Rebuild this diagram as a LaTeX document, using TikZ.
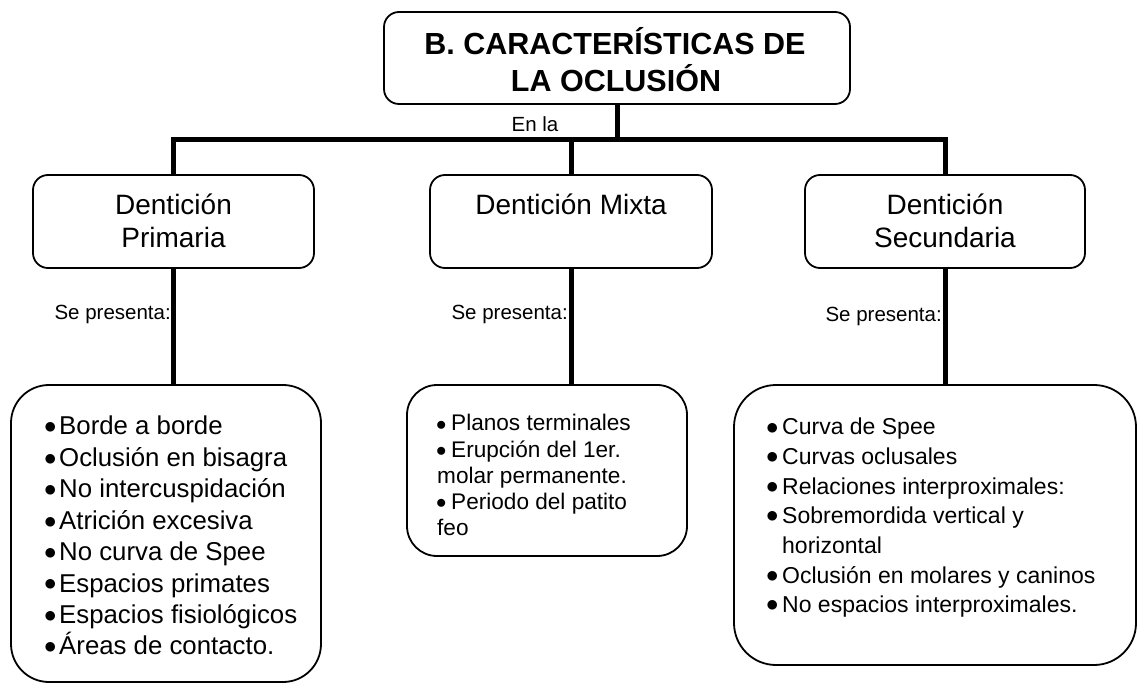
\documentclass[tikz,border=0pt]{standalone}
\usepackage{fontspec}
\setmainfont{Liberation Sans}
\usepackage{graphicx}
\newcommand\bul[1]{\makebox[#1][l]{\raisebox{0.04em}{$\bullet$}}}
\begin{document}
\begin{tikzpicture}[x=1pt,y=-1pt]
\tikzset{
  box/.style={draw, line width=1.8pt, rounded corners=15pt, inner sep=0pt},
  conn/.style={line width=5pt},
  lbl/.style={inner sep=0pt, anchor=base},
  titlefont/.style={font=\fontsize{30.5}{36}\selectfont\bfseries},
  denfont/.style={font=\fontsize{28}{33}\selectfont},
  sefont/.style={font=\fontsize{20.5}{24}\selectfont},
  lfont/.style={font=\fontsize{25.8}{31}\selectfont},
  mfont/.style={font=\fontsize{22.6}{26}\selectfont},
  rfont/.style={font=\fontsize{23}{28}\selectfont},
}
\useasboundingbox (0,0) rectangle (1138,684);

% title
\node[box, minimum width=466pt, minimum height=92pt] (title) at (617,58) {};
\node[lbl, titlefont] (t1) at (615,55) {B. CARACTERÍSTICAS DE};
\node[lbl, titlefont] (t2) at (616,92) {LA OCLUSIÓN};

% level 2 boxes
\node[box, minimum width=281pt, minimum height=93pt] (prim) at (173.5,221.5) {};
\node[box, minimum width=282pt, minimum height=93pt] (mix) at (571,221.5) {};
\node[box, minimum width=280pt, minimum height=93pt] (sec) at (945,221.5) {};
\node[lbl, denfont] (p1) at (173.5,215) {Dentición};
\node[lbl, denfont] (p2) at (173.5,248) {Primaria};
\node[lbl, denfont] (m1) at (571,215) {Dentición Mixta};
\node[lbl, denfont] (s1) at (945,215) {Dentición};
\node[lbl, denfont] (s2) at (945,248) {Secundaria};

% bottom boxes
\node[box, rounded corners=38pt, minimum width=310pt, minimum height=297pt] (lbox) at (166,533.5) {};
\node[box, rounded corners=30pt, minimum width=280pt, minimum height=171pt] (mbox) at (547,470.5) {};
\node[box, rounded corners=42pt, minimum width=402pt, minimum height=280pt] (rbox) at (935,525) {};

% connectors
\coordinate (j) at (617,140);
\draw[conn] (title.south) -- (j);
\draw[conn] (prim.north) |- (j) -| (sec.north);
\draw[conn] (mix.north) -- (mix.north |- j);
\draw[conn] (prim.south) -- (prim.south |- lbox.north);
\draw[conn] (mix.south) -- (mix.south |- mbox.north);
\draw[conn] (sec.south) -- (sec.south |- rbox.north);

% labels
\node[lbl, sefont] (enla) at (535,132) {En la};
\node[lbl, sefont, anchor=base east] (se1) at (171,320) {Se presenta:};
\node[lbl, sefont, anchor=base east] (se2) at (568,320) {Se presenta:};
\node[lbl, sefont, anchor=base east] (se3) at (942,322) {Se presenta:};

% left list
\foreach \t [count=\i from 0] in {Borde a borde, Oclusión en bisagra, No intercuspidación, Atrición excesiva, No curva de Spee, Espacios primates, Espacios fisiológicos, Áreas de contacto.}
  \node[lbl, lfont, anchor=base west] (l\i) at (44,{435+31.4*\i}) {\bul{15pt}\t};

% middle list
\node[lbl, mfont, anchor=base west] (mi1) at (436,431) {\bul{15pt}Planos terminales};
\node[lbl, mfont, anchor=base west] (mi2) at (436,457) {\bul{15pt}Erupción del 1er.};
\node[lbl, mfont, anchor=base west] (mi3) at (437,483) {molar permanente.};
\node[lbl, mfont, anchor=base west] (mi4) at (436,509) {\bul{15pt}Periodo del patito};
\node[lbl, mfont, anchor=base west] (mi5) at (437,535) {feo};

% right list
\node[lbl, rfont, anchor=base west] (r1) at (766,435) {\bul{16pt}Curva de Spee};
\node[lbl, rfont, anchor=base west] (r2) at (766,464.6) {\bul{16pt}Curvas oclusales};
\node[lbl, rfont, anchor=base west] (r3) at (766,494.2) {\bul{16pt}Relaciones interproximales:};
\node[lbl, rfont, anchor=base west] (r4) at (766,523.8) {\bul{16pt}Sobremordida vertical y};
\node[lbl, rfont, anchor=base west] (r5) at (782,553.4) {horizontal};
\node[lbl, rfont, anchor=base west] (r6) at (766,583) {\bul{16pt}Oclusión en molares y caninos};
\node[lbl, rfont, anchor=base west] (r7) at (766,612.6) {\bul{16pt}No espacios interproximales.};
\end{tikzpicture}
\end{document}
